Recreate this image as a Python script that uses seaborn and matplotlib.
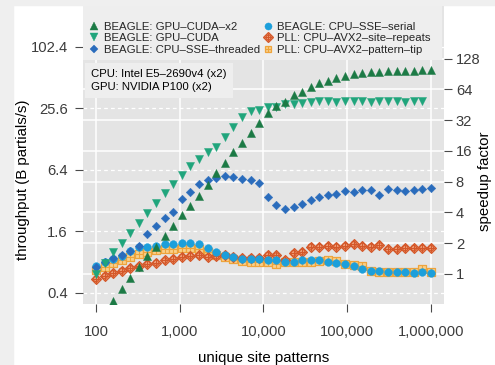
import numpy as np
import pandas as pd
import matplotlib
matplotlib.use("Agg")
import matplotlib.pyplot as plt
import seaborn as sns
from matplotlib.lines import Line2D
from matplotlib.patches import Rectangle
from matplotlib.ticker import NullFormatter
from matplotlib.legend_handler import HandlerTuple

nan = np.nan
# ---------------- data ----------------
patterns = [100, 127, 160, 203, 257, 326, 412, 522, 661, 837,
            1061, 1343, 1701, 2154, 2728, 3455, 4375, 5540, 7016, 8884,
            11250, 14247, 18043, 22850, 28937, 36644, 46416, 58780, 74436, 94263,
            119378, 151178, 191443, 242446, 307029, 388815, 492388, 623552, 789652, 1000000]

gpu_cuda_x2 = [nan, nan, 0.334, 0.435, 0.567, 0.719, 0.911, 1.14, 1.45, 1.81,
               2.32, 2.84, 3.54, 4.56, 5.98, 7.54, 9.50, 11.7, 14.6, 18.5,
               23.0, 26.9, 29.8, 34.7, 37.4, 41.3, 45.2, 47.9, 50.6, 53.3,
               55.3, 56.6, 57.9, 58.7, 59.6, 59.6, 60.0, 60.0, 61.0, 61.0]
gpu_cuda = [0.614, 0.787, 1.01, 1.23, 1.55, 1.94, 2.43, 3.04, 3.81, 4.67,
            5.72, 7.00, 8.20, 9.50, 10.7, 13.5, 16.9, 20.9, 24.4, 24.5,
            26.7, 26.7, 28.2, 28.2, 29.3, 29.6, 30.0, 30.2, 29.9, 30.0,
            30.3, 30.0, 29.8, 30.1, 30.0, 30.2, 29.9, 30.0, 30.1, nan]
cpu_sse_threaded = [0.724, 0.80, 0.874, 0.942, 1.03, 1.16, 1.50, 1.81, 2.15, 2.50,
                    3.33, 3.90, 4.65, 5.11, 5.40, 5.59, 5.47, 5.26, 5.11, 4.81,
                    3.52, 2.89, 2.66, 2.75, 2.97, 3.25, 3.48, 3.67, 3.75, 3.96,
                    3.90, 4.05, 4.05, 3.67, 4.14, 4.12, 3.97, 4.05, 4.18, 4.22]
cpu_sse_serial = [0.735, 0.81, 0.861, 0.921, 1.04, 1.14, 1.13, 1.16, 1.20, 1.22,
                  1.23, 1.23, 1.21, 1.11, 1.00, 0.942, 0.90, 0.865, 0.855, 0.855,
                  0.85, 0.842, 0.81, 0.81, 0.832, 0.842, 0.842, 0.804, 0.787, 0.766,
                  0.73, 0.684, 0.652, 0.652, 0.638, 0.638, 0.636, 0.624, 0.636, 0.624]
pll_site_repeats = [0.548, 0.587, 0.624, 0.66, 0.698, 0.727, 0.769, 0.79, 0.832, 0.861,
                    0.906, 0.925, 0.932, 0.90, 0.915, 0.942, 0.906, 0.88, 0.88, 0.884,
                    0.942, 0.932, 0.832, 0.979, 1.01, 1.14, 1.13, 1.15, 1.14, 1.16,
                    1.20, 1.16, 1.14, 1.17, 1.07, 1.07, 1.10, 1.10, 1.11, 1.10]
pll_pattern_tip = [0.664, 0.724, 0.781, 0.836, 0.90, 0.959, 1.00, 1.05, 1.08, 1.08,
                   1.10, 1.10, 1.08, 1.01, 0.942, 0.906, 0.855, 0.828, 0.81, 0.80,
                   0.804, 0.769, 0.80, 0.81, 0.81, 0.81, 0.823, 0.832, 0.823, 0.769,
                   0.744, 0.73, 0.652, 0.647, 0.643, 0.643, 0.643, 0.643, 0.68, 0.648]

series_names = ["BEAGLE: GPU–CUDA–x2", "BEAGLE: GPU–CUDA", "BEAGLE: CPU–SSE–threaded",
                "BEAGLE: CPU–SSE–serial", "PLL: CPU–AVX2–site–repeats", "PLL: CPU–AVX2–pattern–tip"]
series_values = [gpu_cuda_x2, gpu_cuda, cpu_sse_threaded,
                 cpu_sse_serial, pll_site_repeats, pll_pattern_tip]

x_ticks = [100, 1000, 10000, 100000, 1000000]
x_tick_labels = ["100", "1,000", "10,000", "100,000", "1,000,000"]
y_ticks = [0.4, 1.6, 6.4, 25.6, 102.4]
y_tick_labels = ["0.4", "1.6", "6.4", "25.6", "102.4"]
speedup_ticks = [1, 2, 4, 8, 16, 32, 64, 128]
speedup_base = 0.615          # throughput that corresponds to speedup 1
annotation = "CPU: Intel E5–2690v4 (x2)\nGPU: NVIDIA P100 (x2)"

df = pd.DataFrame({"patterns": np.tile(patterns, len(series_names)),
                   "throughput": np.concatenate(series_values),
                   "series": np.repeat(series_names, len(patterns))})

# ---------------- style ----------------
sns.set_theme(style="darkgrid")
plt.rcParams["font.family"] = ["Liberation Sans", "DejaVu Sans"]

styles = {
    "BEAGLE: GPU–CUDA–x2": dict(layers=[dict(marker="^", s=34, fc="#1c7a45", ec="#1c7a45", lw=0.3)]),
    "BEAGLE: GPU–CUDA": dict(layers=[dict(marker="v", s=34, fc="#20a57c", ec="#20a57c", lw=0.3)]),
    "BEAGLE: CPU–SSE–threaded": dict(layers=[dict(marker="D", s=19, fc="#2a6cbc", ec="#2a6cbc", lw=0.3)]),
    "BEAGLE: CPU–SSE–serial": dict(layers=[dict(marker="o", s=31, fc="#1c9fdb", ec="#1c9fdb", lw=0.3)]),
    "PLL: CPU–AVX2–site–repeats": dict(layers=[dict(marker="D", s=25, fc="#f0a07a", ec="#d4582a", lw=0.9),
                                               dict(marker="o", s=15, fc="none", ec="#d4582a", lw=0.8),
                                               dict(marker="+", s=38, fc="#d4582a", ec="#d4582a", lw=0.8)]),
    "PLL: CPU–AVX2–pattern–tip": dict(layers=[dict(marker="s", s=29, fc="#f9d08a", ec="#eea43c", lw=0.9),
                                              dict(marker="+", s=29, fc="#eea43c", ec="#eea43c", lw=0.8)]),
}
draw_order = ["PLL: CPU–AVX2–pattern–tip", "PLL: CPU–AVX2–site–repeats", "BEAGLE: CPU–SSE–serial",
              "BEAGLE: CPU–SSE–threaded", "BEAGLE: GPU–CUDA", "BEAGLE: GPU–CUDA–x2"]

W, H = 495, 365
fig = plt.figure(figsize=(W / 100, H / 100), dpi=100, facecolor="white")
# light grey frame strips of the original screenshot
fig.patches.append(Rectangle((0, 0), 13 / W, 1, transform=fig.transFigure, color="#efefef", zorder=-10))
fig.patches.append(Rectangle((0, 1 - 5 / H), 1, 5 / H, transform=fig.transFigure, color="#efefef", zorder=-10))

pl, pr, pt, pb = 83, 444, 6, 304
ax = fig.add_axes([pl / W, 1 - pb / H, (pr - pl) / W, (pb - pt) / H])
ax.set_facecolor("#e4e4e4")

for z, name in enumerate(draw_order):
    sub = df[df["series"] == name].dropna()
    for layer in styles[name]["layers"]:
        sns.scatterplot(data=sub, x="patterns", y="throughput", ax=ax, marker=layer["marker"],
                        s=layer["s"], facecolor=layer["fc"], edgecolor=layer["ec"],
                        linewidth=layer["lw"], legend=False, zorder=3 + z)

ax.set_xscale("log")
ax.set_yscale("log", base=2)
ax.set_xlim(70, 1.43e6)
ax.set_ylim(0.312, 258)
ax.set_xticks(x_ticks, labels=x_tick_labels)
ax.set_yticks(y_ticks, labels=y_tick_labels)
ax.set_yticks([s * speedup_base for s in speedup_ticks], minor=True)
ax.yaxis.set_minor_formatter(NullFormatter())
ax.xaxis.set_minor_formatter(NullFormatter())
ax.xaxis.set_minor_locator(matplotlib.ticker.NullLocator())

ax.grid(False)
ax.grid(which="major", axis="x", color="white", lw=1.1, ls="-")
ax.grid(which="major", axis="y", color="white", lw=0.9, ls=(0, (3, 2.5)))
ax.grid(which="minor", axis="y", color="white", lw=1.1, ls="-")
ax.set_axisbelow(True)
for sp in ax.spines.values():
    sp.set_visible(False)

tick_col = "#4a4a4a"
ax.tick_params(axis="x", which="major", bottom=True, length=6, width=0.8, color=tick_col,
               labelsize=10.6, labelcolor="#3c3c3c", pad=9)
ax.tick_params(axis="y", which="major", left=True, length=6, width=0.8, color=tick_col,
               labelsize=10.6, labelcolor="#3c3c3c", pad=5)
ax.tick_params(axis="y", which="minor", left=False, length=0)

ax.set_xlabel("unique site patterns", fontsize=10.8, color="black")
ax.xaxis.label.set_va("center")
ax.xaxis.set_label_coords(0.5, (pb - 358) / (pb - pt))
ax.set_ylabel("throughput (B partials/s)", fontsize=10.8, color="black")
ax.yaxis.label.set_va("center")
ax.yaxis.label.set_ha("center")
ax.yaxis.set_label_coords((23 - pl) / (pr - pl), (pb - 180) / (pb - pt))

# secondary speedup axis
ax2 = ax.twinx()
ax2.set_yscale("log", base=2)
ax2.set_ylim(0.312 / speedup_base, 258 / speedup_base)
ax2.set_yticks(speedup_ticks, labels=[str(v) for v in speedup_ticks])
ax2.yaxis.set_minor_locator(matplotlib.ticker.NullLocator())
ax2.grid(False)
ax2.patch.set_visible(False)
for sp in ax2.spines.values():
    sp.set_visible(False)
ax2.tick_params(axis="y", which="major", right=True, length=5.5, width=0.8, color=tick_col,
                labelsize=10.6, labelcolor="#3c3c3c", pad=3)
ax2.set_ylabel("speedup factor", fontsize=10.8, color="black")
ax2.yaxis.label.set_va("center")
ax2.yaxis.label.set_ha("center")
ax2.yaxis.set_label_coords((485 - pl) / (pr - pl), (pb - 181) / (pb - pt))

# legend box background
ax.add_patch(Rectangle((0, (pb - 60) / (pb - pt)), (442 - pl) / (pr - pl), (60 - pt) / (pb - pt),
                       transform=ax.transAxes, facecolor="#eeeeee", edgecolor="none", zorder=20))

def handle(name):
    hs = []
    for layer in styles[name]["layers"]:
        hs.append(Line2D([], [], ls="none", marker=layer["marker"], markersize=np.sqrt(layer["s"]) * 0.92,
                         markerfacecolor=layer["fc"], markeredgecolor=layer["ec"],
                         markeredgewidth=layer["lw"]))
    return tuple(hs)

leg = ax.legend([handle(n) for n in series_names], series_names, ncol=2,
                loc="upper left", bbox_to_anchor=(0.0, 0.967), borderaxespad=0,
                frameon=False, fontsize=8.2, handlelength=1.0, handletextpad=0.35,
                columnspacing=0.15, labelspacing=0.15, borderpad=0.5,
                handler_map={tuple: HandlerTuple(ndivide=1, pad=0)})
leg.set_zorder(21)

ax.text((91 - pl) / (pr - pl), (pb - 69) / (pb - pt), annotation, transform=ax.transAxes,
        fontsize=8.2, color="black", va="top", ha="left", linespacing=1.35, zorder=22,
        bbox=dict(boxstyle="square,pad=0.55", facecolor="#eeeeee", edgecolor="none"))

fig.savefig("out.png", dpi=100, facecolor="white")
